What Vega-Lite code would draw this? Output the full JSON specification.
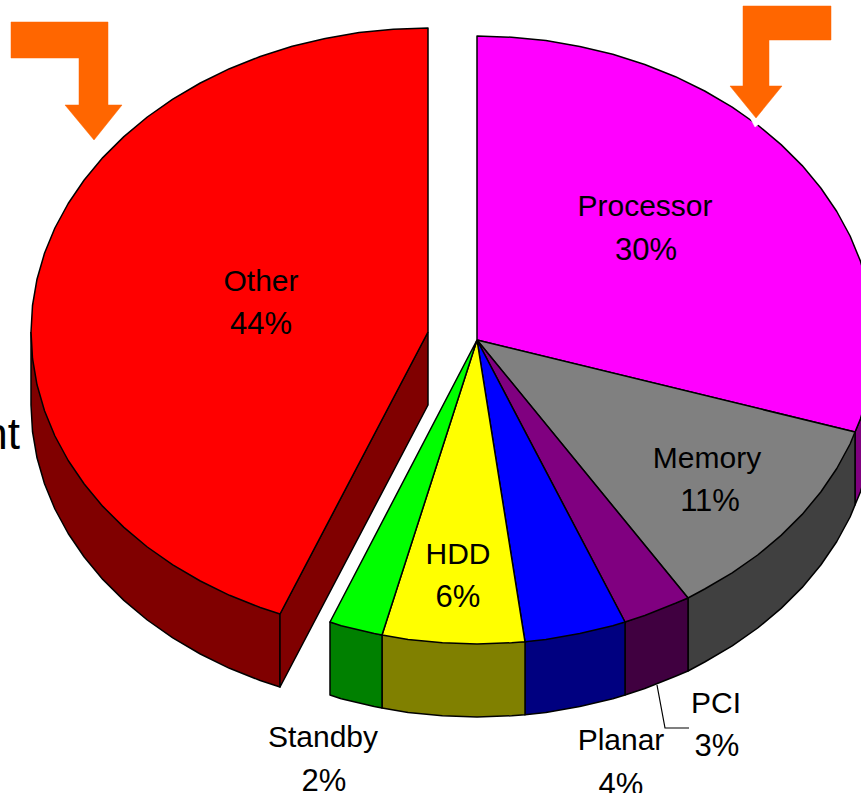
{"$schema":"https://vega.github.io/schema/vega-lite/v6.json","width":861,"height":793,"padding":0,"autosize":{"type":"none"},"background":"white","view":{"stroke":null},
"datasets":{
"slices":[
{"s":"Other wall","i":1,"x":31,"y":332},{"s":"Other wall","i":2,"x":31,"y":405},{"s":"Other wall","i":3,"x":32.5,"y":431.5},{"s":"Other wall","i":4,"x":37,"y":457.8},{"s":"Other wall","i":5,"x":44.5,"y":483.7},{"s":"Other wall","i":6,"x":54.9,"y":509},{"s":"Other wall","i":7,"x":68.2,"y":533.5},{"s":"Other wall","i":8,"x":84.2,"y":557},{"s":"Other wall","i":9,"x":102.8,"y":579.4},{"s":"Other wall","i":10,"x":123.9,"y":600.4},{"s":"Other wall","i":11,"x":147.3,"y":620},{"s":"Other wall","i":12,"x":172.8,"y":637.9},{"s":"Other wall","i":13,"x":200.3,"y":654},{"s":"Other wall","i":14,"x":229.5,"y":668.3},{"s":"Other wall","i":15,"x":260.2,"y":680.5},{"s":"Other wall","i":16,"x":280,"y":687},{"s":"Other wall","i":17,"x":280,"y":614},{"s":"Other wall","i":18,"x":31,"y":332},
{"s":"Other cut","i":1,"x":428,"y":332},{"s":"Other cut","i":2,"x":280,"y":614},{"s":"Other cut","i":3,"x":280,"y":687},{"s":"Other cut","i":4,"x":428,"y":405},{"s":"Other cut","i":5,"x":428,"y":332},
{"s":"Other","i":1,"x":428,"y":332},{"s":"Other","i":2,"x":428,"y":28},{"s":"Other","i":3,"x":393.4,"y":29.2},{"s":"Other","i":4,"x":359.1,"y":32.6},{"s":"Other","i":5,"x":325.2,"y":38.4},{"s":"Other","i":6,"x":292.2,"y":46.3},{"s":"Other","i":7,"x":260.2,"y":56.5},{"s":"Other","i":8,"x":229.5,"y":68.7},{"s":"Other","i":9,"x":200.3,"y":83},{"s":"Other","i":10,"x":172.8,"y":99.1},{"s":"Other","i":11,"x":147.3,"y":117},{"s":"Other","i":12,"x":123.9,"y":136.6},{"s":"Other","i":13,"x":102.8,"y":157.6},{"s":"Other","i":14,"x":84.2,"y":180},{"s":"Other","i":15,"x":68.2,"y":203.5},{"s":"Other","i":16,"x":54.9,"y":228},{"s":"Other","i":17,"x":44.5,"y":253.3},{"s":"Other","i":18,"x":37,"y":279.2},{"s":"Other","i":19,"x":32.5,"y":305.5},{"s":"Other","i":20,"x":31,"y":332},{"s":"Other","i":21,"x":32.5,"y":358.5},{"s":"Other","i":22,"x":37,"y":384.8},{"s":"Other","i":23,"x":44.5,"y":410.7},{"s":"Other","i":24,"x":54.9,"y":436},{"s":"Other","i":25,"x":68.2,"y":460.5},{"s":"Other","i":26,"x":84.2,"y":484},{"s":"Other","i":27,"x":102.8,"y":506.4},{"s":"Other","i":28,"x":123.9,"y":527.4},{"s":"Other","i":29,"x":147.3,"y":547},{"s":"Other","i":30,"x":172.8,"y":564.9},{"s":"Other","i":31,"x":200.3,"y":581},{"s":"Other","i":32,"x":229.5,"y":595.3},{"s":"Other","i":33,"x":260.2,"y":607.5},{"s":"Other","i":34,"x":280,"y":614},{"s":"Other","i":35,"x":428,"y":332},
{"s":"Processor wall","i":1,"x":855,"y":432},{"s":"Processor wall","i":2,"x":860.5,"y":418.7},{"s":"Processor wall","i":3,"x":868,"y":392.8},{"s":"Processor wall","i":4,"x":874,"y":340},{"s":"Processor wall","i":5,"x":874,"y":413},{"s":"Processor wall","i":6,"x":868,"y":465.8},{"s":"Processor wall","i":7,"x":860.5,"y":491.7},{"s":"Processor wall","i":8,"x":855,"y":505},{"s":"Processor wall","i":9,"x":855,"y":432},
{"s":"Memory wall","i":1,"x":855,"y":432},{"s":"Memory wall","i":2,"x":855,"y":505},{"s":"Memory wall","i":3,"x":850.1,"y":517},{"s":"Memory wall","i":4,"x":836.8,"y":541.5},{"s":"Memory wall","i":5,"x":820.8,"y":565},{"s":"Memory wall","i":6,"x":802.2,"y":587.4},{"s":"Memory wall","i":7,"x":781.1,"y":608.4},{"s":"Memory wall","i":8,"x":757.7,"y":628},{"s":"Memory wall","i":9,"x":732.2,"y":645.9},{"s":"Memory wall","i":10,"x":704.7,"y":662},{"s":"Memory wall","i":11,"x":688,"y":671},{"s":"Memory wall","i":12,"x":688,"y":598},{"s":"Memory wall","i":13,"x":855,"y":432},
{"s":"PCI wall","i":1,"x":688,"y":598},{"s":"PCI wall","i":2,"x":688,"y":671},{"s":"PCI wall","i":3,"x":675.5,"y":676.3},{"s":"PCI wall","i":4,"x":644.8,"y":688.5},{"s":"PCI wall","i":5,"x":625,"y":695},{"s":"PCI wall","i":6,"x":625,"y":622},{"s":"PCI wall","i":7,"x":688,"y":598},
{"s":"Planar wall","i":1,"x":625,"y":622},{"s":"Planar wall","i":2,"x":625,"y":695},{"s":"Planar wall","i":3,"x":612.8,"y":698.7},{"s":"Planar wall","i":4,"x":579.8,"y":706.6},{"s":"Planar wall","i":5,"x":545.9,"y":712.4},{"s":"Planar wall","i":6,"x":525,"y":714.8},{"s":"Planar wall","i":7,"x":525,"y":641.8},{"s":"Planar wall","i":8,"x":625,"y":622},
{"s":"HDD wall","i":1,"x":525,"y":641.8},{"s":"HDD wall","i":2,"x":525,"y":714.8},{"s":"HDD wall","i":3,"x":511.6,"y":715.8},{"s":"HDD wall","i":4,"x":477,"y":717},{"s":"HDD wall","i":5,"x":442.4,"y":715.8},{"s":"HDD wall","i":6,"x":408.1,"y":712.4},{"s":"HDD wall","i":7,"x":382,"y":708},{"s":"HDD wall","i":8,"x":382,"y":635},{"s":"HDD wall","i":9,"x":525,"y":641.8},
{"s":"Standby wall","i":1,"x":382,"y":635},{"s":"Standby wall","i":2,"x":382,"y":708},{"s":"Standby wall","i":3,"x":374.2,"y":706.6},{"s":"Standby wall","i":4,"x":341.2,"y":698.7},{"s":"Standby wall","i":5,"x":330,"y":695},{"s":"Standby wall","i":6,"x":330,"y":622},{"s":"Standby wall","i":7,"x":382,"y":635},
{"s":"Processor","i":1,"x":477,"y":340},{"s":"Processor","i":2,"x":477,"y":36},{"s":"Processor","i":3,"x":511.6,"y":37.2},{"s":"Processor","i":4,"x":545.9,"y":40.6},{"s":"Processor","i":5,"x":579.8,"y":46.4},{"s":"Processor","i":6,"x":612.8,"y":54.3},{"s":"Processor","i":7,"x":644.8,"y":64.5},{"s":"Processor","i":8,"x":675.5,"y":76.7},{"s":"Processor","i":9,"x":704.7,"y":91},{"s":"Processor","i":10,"x":732.2,"y":107.1},{"s":"Processor","i":11,"x":757.7,"y":125},{"s":"Processor","i":12,"x":781.1,"y":144.6},{"s":"Processor","i":13,"x":802.2,"y":165.6},{"s":"Processor","i":14,"x":820.8,"y":188},{"s":"Processor","i":15,"x":836.8,"y":211.5},{"s":"Processor","i":16,"x":850.1,"y":236},{"s":"Processor","i":17,"x":860.5,"y":261.3},{"s":"Processor","i":18,"x":868,"y":287.2},{"s":"Processor","i":19,"x":872.5,"y":313.5},{"s":"Processor","i":20,"x":874,"y":340},{"s":"Processor","i":21,"x":872.5,"y":366.5},{"s":"Processor","i":22,"x":868,"y":392.8},{"s":"Processor","i":23,"x":860.5,"y":418.7},{"s":"Processor","i":24,"x":855,"y":432},{"s":"Processor","i":25,"x":477,"y":340},
{"s":"Memory","i":1,"x":477,"y":340},{"s":"Memory","i":2,"x":855,"y":432},{"s":"Memory","i":3,"x":850.1,"y":444},{"s":"Memory","i":4,"x":836.8,"y":468.5},{"s":"Memory","i":5,"x":820.8,"y":492},{"s":"Memory","i":6,"x":802.2,"y":514.4},{"s":"Memory","i":7,"x":781.1,"y":535.4},{"s":"Memory","i":8,"x":757.7,"y":555},{"s":"Memory","i":9,"x":732.2,"y":572.9},{"s":"Memory","i":10,"x":704.7,"y":589},{"s":"Memory","i":11,"x":688,"y":598},{"s":"Memory","i":12,"x":477,"y":340},
{"s":"PCI","i":1,"x":477,"y":340},{"s":"PCI","i":2,"x":688,"y":598},{"s":"PCI","i":3,"x":675.5,"y":603.3},{"s":"PCI","i":4,"x":644.8,"y":615.5},{"s":"PCI","i":5,"x":625,"y":622},{"s":"PCI","i":6,"x":477,"y":340},
{"s":"Planar","i":1,"x":477,"y":340},{"s":"Planar","i":2,"x":625,"y":622},{"s":"Planar","i":3,"x":612.8,"y":625.7},{"s":"Planar","i":4,"x":579.8,"y":633.6},{"s":"Planar","i":5,"x":545.9,"y":639.4},{"s":"Planar","i":6,"x":525,"y":641.8},{"s":"Planar","i":7,"x":477,"y":340},
{"s":"HDD","i":1,"x":477,"y":340},{"s":"HDD","i":2,"x":525,"y":641.8},{"s":"HDD","i":3,"x":511.6,"y":642.8},{"s":"HDD","i":4,"x":477,"y":644},{"s":"HDD","i":5,"x":442.4,"y":642.8},{"s":"HDD","i":6,"x":408.1,"y":639.4},{"s":"HDD","i":7,"x":382,"y":635},{"s":"HDD","i":8,"x":477,"y":340},
{"s":"Standby","i":1,"x":477,"y":340},{"s":"Standby","i":2,"x":382,"y":635},{"s":"Standby","i":3,"x":374.2,"y":633.6},{"s":"Standby","i":4,"x":341.2,"y":625.7},{"s":"Standby","i":5,"x":330,"y":622},{"s":"Standby","i":6,"x":477,"y":340}
],
"notch":[{"i":1,"x":748,"y":114},{"i":2,"x":756,"y":118},{"i":3,"x":759,"y":124},{"i":4,"x":755,"y":127},{"i":5,"x":748,"y":114}],
"arrows":[
{"s":"left","i":1,"x":11,"y":22},{"s":"left","i":2,"x":108,"y":22},{"s":"left","i":3,"x":108,"y":105},{"s":"left","i":4,"x":122,"y":105},{"s":"left","i":5,"x":94,"y":140},{"s":"left","i":6,"x":65,"y":105},{"s":"left","i":7,"x":79,"y":105},{"s":"left","i":8,"x":79,"y":58},{"s":"left","i":9,"x":11,"y":58},{"s":"left","i":10,"x":11,"y":22},
{"s":"right","i":1,"x":743,"y":6},{"s":"right","i":2,"x":831,"y":6},{"s":"right","i":3,"x":831,"y":40},{"s":"right","i":4,"x":769,"y":40},{"s":"right","i":5,"x":769,"y":86},{"s":"right","i":6,"x":782,"y":86},{"s":"right","i":7,"x":756,"y":118},{"s":"right","i":8,"x":730,"y":86},{"s":"right","i":9,"x":743,"y":86},{"s":"right","i":10,"x":743,"y":6}
],
"leader":[{"i":1,"x":657,"y":685},{"i":2,"x":665,"y":728},{"i":3,"x":689,"y":728}],
"names":[
{"t":"Other","x":261,"y":282},{"t":"Processor","x":645,"y":207},{"t":"Memory","x":707,"y":459},{"t":"HDD","x":458,"y":555},{"t":"Standby","x":323,"y":738},{"t":"Planar","x":621,"y":741},{"t":"PCI","x":716,"y":704}
],
"percents":[
{"t":"44%","x":261,"y":325},{"t":"30%","x":646,"y":251},{"t":"11%","x":710,"y":502},{"t":"6%","x":458,"y":598},{"t":"2%","x":324,"y":782},{"t":"4%","x":621,"y":786},{"t":"3%","x":717,"y":747}
],
"clipped":[{"t":"nt","x":20,"y":436}]
},
"encoding":{
"x":{"field":"x","type":"quantitative","scale":{"domain":[0,861],"nice":false,"zero":false},"axis":null},
"y":{"field":"y","type":"quantitative","scale":{"domain":[793,0],"nice":false,"zero":false},"axis":null}
},
"layer":[
{"data":{"name":"slices"},"mark":{"type":"line","clip":true,"stroke":"black","strokeWidth":1.5,"strokeJoin":"round"},
"encoding":{"order":{"field":"i","type":"quantitative"},"detail":{"field":"s"},
"fill":{"field":"s","type":"nominal","legend":null,"scale":{"domain":["Other wall","Other cut","Other","Processor wall","Memory wall","PCI wall","Planar wall","HDD wall","Standby wall","Processor","Memory","PCI","Planar","HDD","Standby"],"range":["#800000","#800000","#ff0000","#800080","#404040","#400040","#000080","#808000","#008000","#ff00ff","#808080","#800080","#0000ff","#ffff00","#00ff00"]}}}},
{"data":{"name":"notch"},"mark":{"type":"line","clip":true,"fill":"white","stroke":"white","strokeWidth":0.5},
"encoding":{"order":{"field":"i","type":"quantitative"}}},
{"data":{"name":"arrows"},"mark":{"type":"line","clip":true,"fill":"#ff6600","stroke":"#ff6600","strokeWidth":0.5},
"encoding":{"order":{"field":"i","type":"quantitative"},"detail":{"field":"s"}}},
{"data":{"name":"leader"},"mark":{"type":"line","stroke":"black","strokeWidth":1.2},
"encoding":{"order":{"field":"i","type":"quantitative"}}},
{"data":{"name":"names"},"mark":{"type":"text","font":"Liberation Sans","fontSize":30,"align":"center","baseline":"middle","fill":"black"},
"encoding":{"text":{"field":"t"}}},
{"data":{"name":"percents"},"mark":{"type":"text","font":"Liberation Sans","fontSize":31,"align":"center","baseline":"middle","fill":"black"},
"encoding":{"text":{"field":"t"}}},
{"data":{"name":"clipped"},"mark":{"type":"text","font":"Liberation Sans","fontSize":44,"align":"right","baseline":"middle","fill":"black"},
"encoding":{"text":{"field":"t"}}}
]}
